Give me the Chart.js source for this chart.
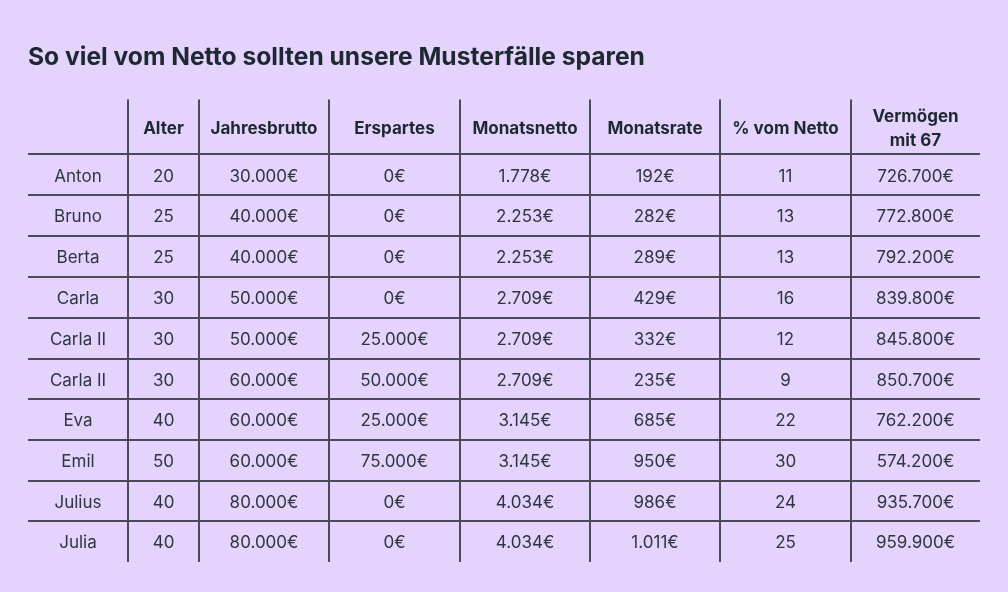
<!DOCTYPE html>
<html>
<head>
<meta charset="utf-8">
<script src="https://cdn.jsdelivr.net/npm/chart.js@4/dist/chart.umd.min.js"></script>
<style>
  html, body { margin: 0; padding: 0; background: #e3d3fd; }
  #wrap { width: 1008px; height: 592px; }
</style>
</head>
<body>
<div id="wrap"><canvas id="table" width="1008" height="592"></canvas></div>
<script>
const headers = ['', 'Alter', 'Jahresbrutto', 'Erspartes', 'Monatsnetto', 'Monatsrate', '% vom Netto', ['Vermögen', 'mit 67']];
const names = ['Anton', 'Bruno', 'Berta', 'Carla', 'Carla II', 'Carla II', 'Eva', 'Emil', 'Julius', 'Julia'];
const alter = [20, 25, 25, 30, 30, 30, 40, 50, 40, 40];
const jahresbrutto = [30000, 40000, 40000, 50000, 50000, 60000, 60000, 60000, 80000, 80000];
const erspartes = [0, 0, 0, 0, 25000, 50000, 25000, 75000, 0, 0];
const monatsnetto = [1778, 2253, 2253, 2709, 2709, 2709, 3145, 3145, 4034, 4034];
const monatsrate = [192, 282, 289, 429, 332, 235, 685, 950, 986, 1011];
const prozentVomNetto = [11, 13, 13, 16, 12, 9, 22, 30, 24, 25];
const vermoegen = [726700, 772800, 792200, 839800, 845800, 850700, 762200, 574200, 935700, 959900];

// layout of the table grid (scale units)
const colWidths = [100, 71, 130, 131, 130, 130, 131, 129];
const rowHeights = [55, 41, 41, 41, 41, 41, 40, 41, 41, 40, 41];

const lineColor = '#4a4a58';
const textColor = '#30353f';
const headColor = '#1e2830';
const fontFamily = 'Inter, "Noto Sans", sans-serif';

function edges(sizes) {
  const out = [0];
  sizes.forEach((s) => out.push(out[out.length - 1] + s));
  return out;
}
const colEdges = edges(colWidths);
const rowEdges = edges(rowHeights);
const colMid = (i) => (colEdges[i] + colEdges[i + 1]) / 2;
const rowMid = (i) => (rowEdges[i] + rowEdges[i + 1]) / 2;

const euro = (n) => String(n).replace(/\B(?=(\d{3})+(?!\d))/g, '.') + '€';

const columns = [
  names,
  alter.map(String),
  jahresbrutto.map(euro),
  erspartes.map(euro),
  monatsnetto.map(euro),
  monatsrate.map(euro),
  prozentVomNetto.map(String),
  vermoegen.map(euro),
];

const datasets = [{
  label: 'header',
  bold: true,
  data: headers.map((h, c) => ({ x: colMid(c), y: rowMid(0), text: h })),
}];
columns.forEach((col, c) => {
  datasets.push({
    label: 'col' + c,
    bold: false,
    data: col.map((t, r) => ({ x: colMid(c), y: rowMid(r + 1), text: t })),
  });
});

const cellText = {
  id: 'cellText',
  afterDatasetsDraw(chart) {
    const ctx = chart.ctx;
    ctx.save();
    ctx.textAlign = 'center';
    ctx.textBaseline = 'middle';
    chart.data.datasets.forEach((ds, i) => {
      const meta = chart.getDatasetMeta(i);
      ctx.font = (ds.bold ? '700 ' : '400 ') + '17px ' + fontFamily;
      ctx.fillStyle = ds.bold ? headColor : textColor;
      meta.data.forEach((pt, j) => {
        const t = ds.data[j].text;
        const lines = Array.isArray(t) ? t : [t];
        const lh = 24;
        lines.forEach((line, k) => {
          ctx.fillText(line, pt.x, pt.y + 1.5 + (k - (lines.length - 1) / 2) * lh);
        });
      });
    });
    ctx.restore();
  },
};

const gridColor = (last) => (ctx) => {
  const v = ctx.tick ? ctx.tick.value : null;
  return v === 0 || v === last ? 'rgba(0,0,0,0)' : lineColor;
};

new Chart(document.getElementById('table'), {
  type: 'scatter',
  data: { datasets },
  options: {
    responsive: false,
    animation: false,
    events: [],
    elements: { point: { radius: 0, hoverRadius: 0 } },
    layout: { padding: { left: 28, right: 28, top: 0, bottom: 30 } },
    plugins: {
      legend: { display: false },
      tooltip: { enabled: false },
      title: {
        display: true,
        text: 'So viel vom Netto sollten unsere Musterfälle sparen',
        align: 'start',
        color: headColor,
        font: { family: fontFamily, size: 24.6, weight: '700' },
        padding: { top: 43, bottom: 27 },
      },
    },
    scales: {
      x: {
        type: 'linear',
        min: 0,
        max: colEdges[colEdges.length - 1],
        afterBuildTicks: (scale) => { scale.ticks = colEdges.map((v) => ({ value: v })); },
        afterFit: (scale) => { scale.height = 0; },
        ticks: { display: false },
        border: { display: false },
        grid: { drawTicks: false, lineWidth: 2, color: gridColor(colEdges[colEdges.length - 1]) },
      },
      y: {
        type: 'linear',
        reverse: true,
        min: 0,
        max: rowEdges[rowEdges.length - 1],
        afterBuildTicks: (scale) => { scale.ticks = rowEdges.map((v) => ({ value: v })); },
        afterFit: (scale) => { scale.width = 0; },
        ticks: { display: false },
        border: { display: false },
        grid: { drawTicks: false, lineWidth: 2, color: gridColor(rowEdges[rowEdges.length - 1]) },
      },
    },
  },
  plugins: [cellText],
});
</script>
</body>
</html>
